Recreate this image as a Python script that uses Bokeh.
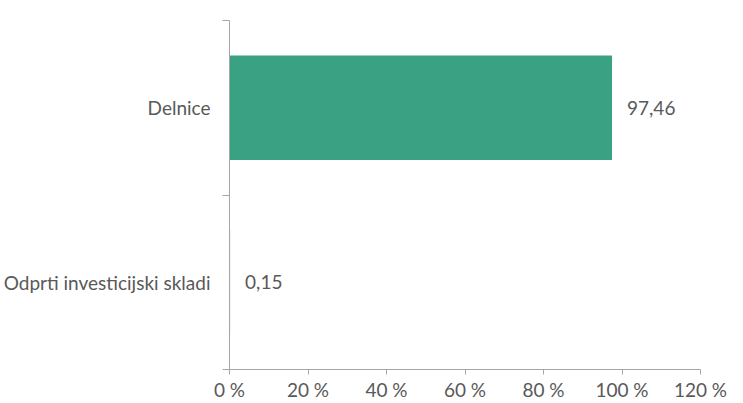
from bokeh.plotting import figure
from bokeh.models import Range1d, FixedTicker, ColumnDataSource, LabelSet
from bokeh.core.properties import value
from bokeh.embed import file_html
from bokeh.resources import INLINE

categories = ["Odprti investicijski skladi", "Delnice"]
values = [0.15, 97.46]
value_labels = ["0,15", "97,46"]
x_ticks = [0, 20, 40, 60, 80, 100, 120]
x_tick_labels = ["0 %", "20 %", "40 %", "60 %", "80 %", "100 %", "120 %"]

FONT = "Lato"
FS = "19px"
TXT = "#595959"
AX = "#a6a6a6"

pos = [i + 0.5 for i in range(len(categories))]
src = ColumnDataSource(dict(y=pos, v=values, lab=value_labels))

p = figure(width=740, height=403, output_backend="svg", toolbar_location=None,
           x_range=Range1d(0, 120), y_range=Range1d(0, len(categories)),
           min_border_left=229, min_border_right=40, min_border_top=20, min_border_bottom=32)
p.outline_line_color = None
p.xgrid.visible = False
p.ygrid.visible = False

p.hbar(y="y", right="v", left=0, height=0.6, source=src, fill_color="#3ba183", line_color=None)
p.add_layout(LabelSet(x="v", y="y", text="lab", source=src, x_offset=15, y_offset=0,
                      text_baseline="middle", text_font=value(FONT), text_font_size=FS,
                      text_color=TXT))

xa = p.xaxis[0]
xa.ticker = FixedTicker(ticks=x_ticks, minor_ticks=[])
xa.major_label_overrides = {t: l for t, l in zip(x_ticks, x_tick_labels)}
xa.axis_line_color = AX
xa.major_tick_line_color = AX
xa.major_tick_out = 5
xa.major_tick_in = 0
xa.minor_tick_line_color = None
xa.major_label_text_font = FONT
xa.major_label_text_font_size = FS
xa.major_label_text_color = TXT
xa.major_label_standoff = 3

ya = p.yaxis[0]
ya.ticker = FixedTicker(ticks=pos, minor_ticks=list(range(len(categories) + 1)))
ya.major_label_overrides = {pp: c for pp, c in zip(pos, categories)}
ya.axis_line_color = AX
ya.major_tick_line_color = None
ya.major_tick_out = 0
ya.major_tick_in = 0
ya.minor_tick_line_color = AX
ya.minor_tick_out = 7
ya.minor_tick_in = 0
ya.major_label_text_font = FONT
ya.major_label_text_font_size = FS
ya.major_label_text_color = TXT
ya.major_label_standoff = 12

open("out.html", "w").write(file_html(p, INLINE))
